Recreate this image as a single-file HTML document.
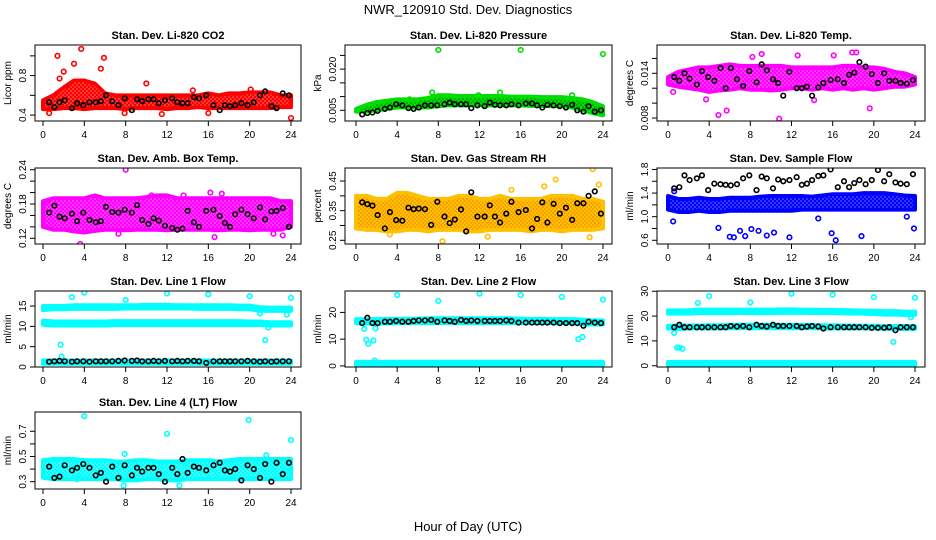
<!DOCTYPE html>
<html><head><meta charset="utf-8"><style>
html,body{margin:0;padding:0;background:#fff}
svg{display:block;font-family:"Liberation Sans",Arial,sans-serif}
</style></head><body>
<svg id="c" width="936" height="540" viewBox="0 0 936 540">
<defs id="defs"></defs>
<text x="468" y="14" text-anchor="middle" font-size="13">NWR_120910  Std. Dev. Diagnostics</text>
<text x="468" y="531" text-anchor="middle" font-size="13">Hour of Day (UTC)</text>
</svg>
<script>
const hours=[0,1,2,3,4,5,6,7,8,9,10,11,12,13,14,15,16,17,18,19,20,21,22,23,24];
const blackHours=[0.6,1.1,1.6,2.1,2.8,3.3,3.9,4.5,5.1,5.6,6.1,6.7,7.3,7.9,8.6,9.1,9.6,10.2,10.7,11.2,11.8,12.5,13,13.5,14,14.6,15.1,15.8,16.5,17.1,17.6,18.1,18.6,19.2,19.8,20.4,21,21.5,22.1,22.6,23.2,23.8];
const xTicks=[0,4,8,12,16,20,24];

// CO2
const co2Lo=[.46,.46,.47,.47,.46,.47,.47,.47,.46,.47,.47,.47,.46,.47,.47,.48,.47,.47,.47,.47,.47,.47,.47,.48,.48];
const co2Hi=[.55,.6,.68,.75,.75,.72,.62,.6,.6,.6,.6,.6,.6,.6,.6,.6,.62,.6,.62,.62,.63,.63,.63,.6,.6];
const co2OutX=[1.4,3.7,5.9,5.6,3.0,2.0,1.6,10,0.6,7.9,11.5,16,24,20.1,14.5];
const co2OutY=[1.0,1.07,0.98,0.87,0.92,0.84,0.77,0.72,0.42,0.42,0.41,0.42,0.37,0.66,0.65];
const co2Black=[.53,.48,.53,.55,.47,.52,.5,.53,.53,.54,.6,.54,.5,.57,.45,.56,.54,.56,.56,.52,.55,.57,.53,.52,.52,.58,.57,.6,.5,.45,.5,.49,.5,.52,.5,.53,.6,.64,.49,.47,.62,.6];
// Pressure
const presLo=[.0045,.0045,.005,.0055,.006,.006,.006,.006,.0065,.0068,.0068,.0068,.0068,.0068,.0068,.0068,.0068,.0066,.0066,.0065,.0065,.006,.005,.004,.0032];
const presHi=[.0055,.007,.008,.0085,.009,.009,.009,.0095,.0105,.0105,.0102,.0102,.0102,.0102,.0102,.01,.01,.01,.0098,.0098,.0098,.0095,.009,.008,.0065];
const presOutX=[8,16,24,7.4,14,21,11.9,5.2];
const presOutY=[.027,.027,.0255,.0115,.0115,.0105,.0105,.009];
const presBlack=[.0035,.004,.0042,.0048,.0055,.006,.0072,.0068,.0058,.0055,.006,.0068,.0068,.0068,.0072,.0078,.0072,.0072,.0072,.0058,.0068,.0065,.0078,.007,.0068,.0068,.0072,.0068,.0075,.0075,.0068,.006,.007,.0068,.0065,.006,.007,.005,.0045,.0065,.0045,.005];
// Li-820 Temp
const tempLo=[.0125,.0122,.012,.0118,.0115,.0117,.0118,.012,.0118,.0118,.0117,.0118,.012,.012,.0118,.012,.0118,.012,.0118,.012,.0118,.012,.0122,.0122,.0125];
const tempHi=[.0135,.0142,.0145,.0148,.0148,.015,.0152,.015,.015,.015,.015,.015,.0148,.0148,.0148,.0148,.0148,.015,.015,.0148,.0148,.0146,.0142,.014,.0135];
const tempOutX=[0.5,4.9,5.7,10.8,12.6,9.1,17.9,18.3,16.1,19.6,8.2,3.7,14.2];
const tempOutY=[.0115,.0084,.009,.0079,.0164,.0166,.0168,.0168,.0164,.0093,.0162,.0105,.0104];
const tempBlack=[.0135,.013,.014,.0133,.0125,.0143,.0135,.013,.0147,.012,.0147,.0132,.0123,.0143,.0128,.0152,.0144,.0132,.0127,.011,.0142,.012,.012,.0122,.011,.0121,.0127,.0131,.0132,.0127,.0138,.0141,.0155,.0149,.0139,.0127,.014,.013,.013,.0127,.0126,.0131];
// Amb box temp
const ambLo=[.14,.135,.135,.132,.13,.133,.135,.135,.134,.135,.135,.135,.134,.135,.135,.135,.135,.134,.135,.135,.134,.135,.135,.135,.14];
const ambHi=[.185,.19,.19,.19,.19,.195,.19,.19,.19,.19,.192,.195,.195,.19,.19,.19,.19,.19,.19,.19,.19,.19,.19,.185,.185];
const ambOutX=[8,3.6,16.2,17.3,10.5,13.6,5.4,22.3,16.6,7.3,23.2];
const ambOutY=[.24,.11,.2,.198,.195,.195,.19,.128,.122,.128,.125];
const ambBlack=[.165,.177,.158,.155,.163,.15,.165,.152,.148,.15,.175,.166,.165,.17,.165,.178,.152,.145,.155,.151,.142,.138,.135,.137,.168,.148,.14,.168,.17,.159,.147,.14,.162,.17,.162,.155,.174,.153,.167,.168,.173,.14];
// Gas stream RH
const rhLo=[.29,.285,.285,.28,.28,.285,.285,.28,.285,.285,.285,.28,.28,.285,.285,.285,.285,.28,.285,.285,.28,.285,.285,.285,.29];
const rhHi=[.4,.4,.39,.39,.41,.41,.4,.39,.39,.39,.4,.4,.39,.39,.4,.39,.39,.39,.39,.4,.4,.4,.39,.39,.38];
const rhOutX=[23,19.4,8.4,22.7,23.6,18.3,15.1,12.8,3.3];
const rhOutY=[.49,.455,.247,.26,.438,.432,.42,.262,.27];
const rhBlack=[.378,.372,.367,.335,.29,.345,.318,.316,.36,.355,.357,.355,.302,.38,.33,.308,.32,.354,.28,.412,.33,.33,.368,.33,.31,.34,.38,.345,.352,.29,.322,.378,.31,.373,.34,.36,.319,.375,.375,.4,.415,.34];
// Sample flow
const sfLo=[1.12,1.08,1.08,1.1,1.08,1.08,1.1,1.1,1.1,1.1,1.1,1.1,1.1,1.12,1.12,1.12,1.12,1.12,1.12,1.12,1.12,1.12,1.12,1.12,1.12];
const sfHi=[1.35,1.3,1.3,1.32,1.3,1.3,1.32,1.32,1.32,1.34,1.35,1.35,1.35,1.35,1.34,1.36,1.38,1.38,1.38,1.4,1.4,1.4,1.38,1.36,1.35];
const sfOutX=[0.5,4.9,6,6.4,7,7.5,8.1,8.8,9.6,10.3,11.8,14.6,15.9,16.3,18.8,23.9,23.2,0.6];
const sfOutY=[0.92,0.81,0.66,0.65,0.76,0.67,0.79,0.76,0.68,0.73,0.65,0.97,0.72,0.6,0.67,0.8,1.0,1.43];
const sfBlack=[1.48,1.5,1.7,1.62,1.65,1.7,1.45,1.56,1.55,1.54,1.53,1.55,1.65,1.7,1.45,1.68,1.65,1.48,1.63,1.6,1.62,1.67,1.54,1.56,1.62,1.69,1.7,1.8,1.5,1.6,1.5,1.57,1.62,1.55,1.62,1.79,1.6,1.72,1.58,1.56,1.55,1.72];
// Line 1
const l1aLo=[14,14.2,14.2,14.3,14.3,14.3,14.3,14.3,14.4,14.4,14.4,14.4,14.4,14.4,14.4,14.3,14.3,14.3,14.3,14.2,14.2,13.8,13.8,13.8,13.8];
const l1aHi=[15,15,15,15.2,15.2,15.2,15.2,15.2,15.2,15.2,15.3,15.3,15.3,15.2,15.2,15.2,15.2,15.2,15.2,15.1,15.1,14.7,14.6,14.6,14.6];
const l1bLo=[10.4,10.2,10.2,10.2,10.2,10.2,10.2,10.3,10.3,10.3,10.3,10.3,10.3,10.3,10.3,10.3,10.3,10.3,10.3,10.3,10.3,10.3,10.2,10.2,10.2];
const l1bHi=[11.4,11.2,11.2,11.2,11.2,11.2,11.2,11.3,11.3,11.3,11.3,11.3,11.3,11.3,11.3,11.3,11.3,11.3,11.3,11.3,11.2,11.2,11,11,11];
const l1cLo=[0.8,0.8,0.8,0.8,0.8,0.8,0.8,0.8,0.8,0.8,0.8,0.8,0.8,0.8,0.8,0.8,0.8,0.8,0.8,0.8,0.8,0.8,0.8,0.8,0.8];
const l1cHi=[1.6,1.6,1.6,1.6,1.6,1.6,1.6,1.6,1.6,1.6,1.6,1.6,1.6,1.6,1.6,1.6,1.6,1.6,1.6,1.6,1.6,1.6,1.6,1.6,1.6];
const l1OutX=[4,12,16,20,24,8,2.8,1.7,1.8,21.5,21.8,23.6,21];
const l1OutY=[18.3,18.1,17.9,17.4,17,16.5,17.2,5.5,2.6,6.6,9.7,12.9,13.2];
const l1Black=[1.3,1.4,1.5,1.4,1.3,1.4,1.4,1.3,1.4,1.4,1.4,1.4,1.5,1.6,1.5,1.6,1.4,1.4,1.5,1.4,1.5,1.4,1.5,1.4,1.5,1.5,1.4,1.0,1.4,1.4,1.4,1.4,1.4,1.4,1.5,1.4,1.3,1.4,1.3,1.4,1.4,1.4];
// Line 2
const l2aLo=[16,15.8,15.8,15.9,16,16,16,16,16,16,16,16,16,16,16,16,16,16,16,16,16,16,15.5,15.5,15.5];
const l2aHi=[17.5,17.5,17.5,17.6,17.6,17.6,17.7,17.8,17.8,17.8,17.8,17.8,17.8,17.8,17.8,17.8,17.6,17.6,17.6,17.5,17.5,17.5,17.3,17,17];
const l2bLo=[0.3,0.3,0.3,0.3,0.3,0.3,0.3,0.3,0.3,0.3,0.3,0.3,0.3,0.3,0.3,0.3,0.3,0.3,0.3,0.3,0.3,0.3,0.3,0.3,0.3];
const l2bHi=[1.5,1.5,1.5,1.5,1.5,1.5,1.5,1.5,1.5,1.5,1.5,1.5,1.5,1.5,1.5,1.5,1.5,1.5,1.5,1.5,1.5,1.5,1.5,1.5,1.5];
const l2OutX=[4,12,16,20,24,8,0.8,1,1.2,1.7,1.9,21.6,22,1.8];
const l2OutY=[26.5,27,26.5,25.8,24.8,24.3,13.8,9.8,8.3,9.5,14,10,10.8,2];
const l2Black=[16,18,16,16,16.5,16.5,16.8,16.5,16.5,16.8,17,17,17.2,16.5,17,16.8,16.5,17.2,16.8,17,16.8,16.8,16.8,16.8,16.8,17,16.8,16.2,16.2,16.2,16.2,16.2,16.2,16.2,16,16,16,16,15,16.5,16.2,16];
// Line 3
const l3aLo=[21,21,21,21.2,21.2,21.2,21.2,21.2,21.2,21.2,21.2,21.3,21.3,21.3,21.2,21.2,21.2,21.1,21,21,20.8,20.6,20.6,20.5,20.5];
const l3aHi=[22.2,22.3,22.3,22.6,22.6,22.6,22.6,22.6,22.6,22.6,22.6,22.7,22.7,22.6,22.6,22.5,22.5,22.4,22.3,22.2,22.2,22,22,21.8,21.8];
const l3bLo=[15,14.8,15,15,15,15,15.1,15.1,15.1,15.1,15.1,15.1,15.1,15.1,15.1,15,15,15,15,15,15,14.9,14.8,14.8,14.8];
const l3bHi=[16,16.3,16.2,16.2,16.3,16.3,16.4,16.5,16.5,16.5,16.5,16.5,16.5,16.4,16.4,16.3,16.3,16.2,16.2,16.1,16.1,16,16,16,16];
const l3cLo=[0.3,0.3,0.3,0.3,0.3,0.3,0.3,0.3,0.3,0.3,0.3,0.3,0.3,0.3,0.3,0.3,0.3,0.3,0.3,0.3,0.3,0.3,0.3,0.3,0.3];
const l3cHi=[1.5,1.5,1.5,1.5,1.5,1.5,1.5,1.5,1.5,1.5,1.5,1.5,1.5,1.5,1.5,1.5,1.5,1.5,1.5,1.5,1.5,1.5,1.5,1.5,1.5];
const l3OutX=[4,12,16,20,24,8,2.9,0.9,1.1,1.4,0.6,21.9,23.6];
const l3OutY=[28,29,28.6,27.6,27.4,25.5,25.3,7.3,7.3,6.8,13.2,9.6,19.5];
const l3Black=[15.5,16.5,15.5,15.5,15.5,15.5,15.5,15.5,15.5,15.5,16,15.8,16,15.5,16.5,16,15.8,16.5,16,16,16,16,15.5,15.8,16,15.8,15,15.5,15.5,15.5,15.5,15.5,15.5,15.5,15.3,15.3,15.3,15.5,14.3,15.5,15.5,15.5];
// Line 4
const l4Lo=[.33,.32,.32,.32,.32,.32,.32,.32,.31,.31,.32,.32,.31,.31,.32,.32,.32,.32,.32,.32,.32,.32,.32,.32,.32];
const l4Hi=[.47,.48,.48,.48,.47,.47,.47,.46,.46,.47,.47,.46,.46,.46,.47,.47,.47,.46,.47,.48,.48,.48,.48,.48,.48];
const l4OutX=[4,19.9,12,24,7.9,3.3,13.2,7.8,21.6];
const l4OutY=[.82,.79,.68,.63,.52,.32,.27,.27,.51];
const l4Black=[.42,.33,.34,.43,.39,.41,.44,.41,.35,.37,.3,.42,.33,.43,.35,.41,.38,.41,.41,.36,.3,.41,.36,.48,.37,.42,.41,.39,.43,.45,.39,.38,.4,.31,.43,.4,.33,.44,.3,.45,.36,.45];

const NS='http://www.w3.org/2000/svg';
const svg=document.getElementById('c');
const defs=document.getElementById('defs');
function mk(tag,attrs,parent){const e=document.createElementNS(NS,tag);for(const k in attrs)e.setAttribute(k,attrs[k]);(parent||svg).appendChild(e);return e;}

// textured fills mimicking overplotted open circles
const patterns={};
function pat(color,dot){
 const id='pat'+color.replace('#','');
 if(patterns[id])return id;
 patterns[id]=1;
 const p=mk('pattern',{id:id,width:4,height:4,patternUnits:'userSpaceOnUse'},defs);
 mk('rect',{x:0,y:0,width:4,height:4,fill:color},p);
 mk('circle',{cx:1,cy:1,r:0.55,fill:dot},p);
 mk('circle',{cx:3,cy:3,r:0.55,fill:dot},p);
 return id;
}

const cols=[{bl:35,br:301,x0:43,x24:291},{bl:345,br:612,x0:356,x24:603},{bl:657,br:925,x0:668,x24:915}];
const rows=[{t:45,b:121},{t:168,b:244},{t:291,b:367},{t:412,b:489}];

const panels=[
 {name:'co2',title:'Stan. Dev. Li-820 CO2',ylab:'Licor ppm',c:0,r:0,ymin:0.34,ymax:1.11,ticks:[0.4,0.6,0.8,1.0],labels:['0.4','','0.8',''],color:'#ff0000',dot:'#fff',bands:[[co2Lo,co2Hi]],ox:co2OutX,oy:co2OutY,bk:co2Black},
 {name:'pressure',title:'Stan. Dev. Li-820 Pressure',ylab:'kPa',c:1,r:0,ymin:0.0011,ymax:0.0288,ticks:[0.005,0.01,0.015,0.02,0.025],labels:['0.005','','','0.020',''],color:'#00dd00',dot:'#000',bands:[[presLo,presHi]],ox:presOutX,oy:presOutY,bk:presBlack},
 {name:'li820-temp',title:'Stan. Dev. Li-820 Temp.',ylab:'degrees C',c:2,r:0,ymin:0.0076,ymax:0.0178,ticks:[0.008,0.01,0.012,0.014,0.016],labels:['0.008','','','0.014',''],color:'#ff00ff',dot:'#fff',bands:[[tempLo,tempHi]],ox:tempOutX,oy:tempOutY,bk:tempBlack},
 {name:'amb-box-temp',title:'Stan. Dev. Amb. Box Temp.',ylab:'degrees C',c:0,r:1,ymin:0.11,ymax:0.243,ticks:[0.12,0.14,0.16,0.18,0.2,0.22,0.24],labels:['0.12','','','0.18','','','0.24'],color:'#ff00ff',dot:'#fff',bands:[[ambLo,ambHi]],ox:ambOutX,oy:ambOutY,bk:ambBlack},
 {name:'gas-stream-rh',title:'Stan. Dev. Gas Stream RH',ylab:'percent',c:1,r:1,ymin:0.2375,ymax:0.494,ticks:[0.25,0.3,0.35,0.4,0.45],labels:['0.25','','0.35','','0.45'],color:'#ffc000',dot:'#e03000',bands:[[rhLo,rhHi]],ox:rhOutX,oy:rhOutY,bk:rhBlack},
 {name:'sample-flow',title:'Stan. Dev. Sample Flow',ylab:'ml/min',c:2,r:1,ymin:0.537,ymax:1.825,ticks:[0.6,0.8,1.0,1.2,1.4,1.6,1.8],labels:['0.6','','1.0','','1.4','','1.8'],color:'#0000ff',dot:'#fff',bands:[[sfLo,sfHi]],ox:sfOutX,oy:sfOutY,bk:sfBlack},
 {name:'line1-flow',title:'Stan. Dev. Line 1 Flow',ylab:'ml/min',c:0,r:2,ymin:0,ymax:18.7,ticks:[0,5,10,15],labels:['0','5','10','15'],color:'#00ffff',dot:'#fff',bands:[[l1aLo,l1aHi],[l1bLo,l1bHi],[l1cLo,l1cHi]],ox:l1OutX,oy:l1OutY,bk:l1Black},
 {name:'line2-flow',title:'Stan. Dev. Line 2 Flow',ylab:'ml/min',c:1,r:2,ymin:-0.4,ymax:28,ticks:[0,10,20],labels:['0','10','20'],color:'#00ffff',dot:'#fff',bands:[[l2aLo,l2aHi],[l2bLo,l2bHi]],ox:l2OutX,oy:l2OutY,bk:l2Black},
 {name:'line3-flow',title:'Stan. Dev. Line 3 Flow',ylab:'ml/min',c:2,r:2,ymin:-0.5,ymax:30.1,ticks:[0,10,20,30],labels:['0','10','20','30'],color:'#00ffff',dot:'#fff',bands:[[l3aLo,l3aHi],[l3bLo,l3bHi],[l3cLo,l3cHi]],ox:l3OutX,oy:l3OutY,bk:l3Black},
 {name:'line4-flow',title:'Stan. Dev. Line 4 (LT) Flow',ylab:'ml/min',c:0,r:3,ymin:0.242,ymax:0.853,ticks:[0.3,0.4,0.5,0.6,0.7],labels:['0.3','','0.5','','0.7'],color:'#00ffff',dot:'#fff',bands:[[l4Lo,l4Hi]],ox:l4OutX,oy:l4OutY,bk:l4Black}
];

panels.forEach(p=>{
 const C=cols[p.c],R=rows[p.r];
 const xs=h=>C.x0+(C.x24-C.x0)*h/24;
 const ys=v=>R.b-(v-p.ymin)/(p.ymax-p.ymin)*(R.b-R.t);
 const g=mk('g',{});
 
 
 const t=mk('text',{x:(C.bl+C.br)/2,y:R.t-6,'text-anchor':'middle','font-size':11,'font-weight':'bold'},g);
 t.textContent=p.title;
 
 
 const cp='clip-'+p.name;
 const cl=mk('clipPath',{id:cp},g);mk('rect',{x:C.bl,y:R.t,width:C.br-C.bl,height:R.b-R.t},cl);
 const pg=mk('g',{'clip-path':'url(#'+cp+')'},g);
 const pid=pat(p.color,p.dot);
 p.bands.forEach(b=>{
  const lo=b[0],hi=b[1];
  let pts=hours.map((h,i)=>xs(h)+','+ys(hi[i]));
  pts=pts.concat(hours.slice().reverse().map((h,j)=>{const i=hours.length-1-j;return xs(h)+','+ys(lo[i]);}));
  const poly=mk('polygon',{points:pts.join(' '),fill:'url(#'+pid+')',stroke:p.color,'stroke-width':4,'stroke-linejoin':'round'},pg);
  
  
 });
 p.ox.forEach((x,i)=>{
  const c=mk('circle',{cx:xs(x),cy:ys(p.oy[i]),r:2.3,fill:'none',stroke:p.color,'stroke-width':1.6},pg);
  
  
 });
 blackHours.forEach((h,i)=>{
  const c=mk('circle',{cx:xs(h),cy:ys(p.bk[i]),r:2.3,fill:'none',stroke:'#000','stroke-width':1.6},pg);
  
  
 });
 const box=mk('rect',{x:C.bl,y:R.t,width:C.br-C.bl,height:R.b-R.t,fill:'none',stroke:'#000','stroke-width':1},g);
 
 
 mk('line',{x1:xs(0),x2:xs(24),y1:R.b,y2:R.b,stroke:'#000'},g);
 xTicks.forEach(v=>{
  mk('line',{x1:xs(v),x2:xs(v),y1:R.b,y2:R.b+5,stroke:'#000'},g);
  const tl=mk('text',{x:xs(v),y:R.b+17,'text-anchor':'middle','font-size':10},g);
  tl.textContent=v;
  
  
 });
 p.ticks.forEach((v,i)=>{
  const y=ys(v);
  mk('line',{x1:C.bl-5,x2:C.bl,y1:y,y2:y,stroke:'#000'},g);
  if(p.labels[i]){
   const tl=mk('text',{x:0,y:0,'text-anchor':'middle','font-size':10,transform:'translate('+(C.bl-9)+','+y+') rotate(-90)'},g);
   tl.textContent=p.labels[i];
   
   
  }
 });
 const yl=mk('text',{x:0,y:0,'text-anchor':'middle','font-size':10,transform:'translate('+(C.bl-24)+','+((R.t+R.b)/2)+') rotate(-90)'},g);
 yl.textContent=p.ylab;
 
 
});
</script>
</body></html>
